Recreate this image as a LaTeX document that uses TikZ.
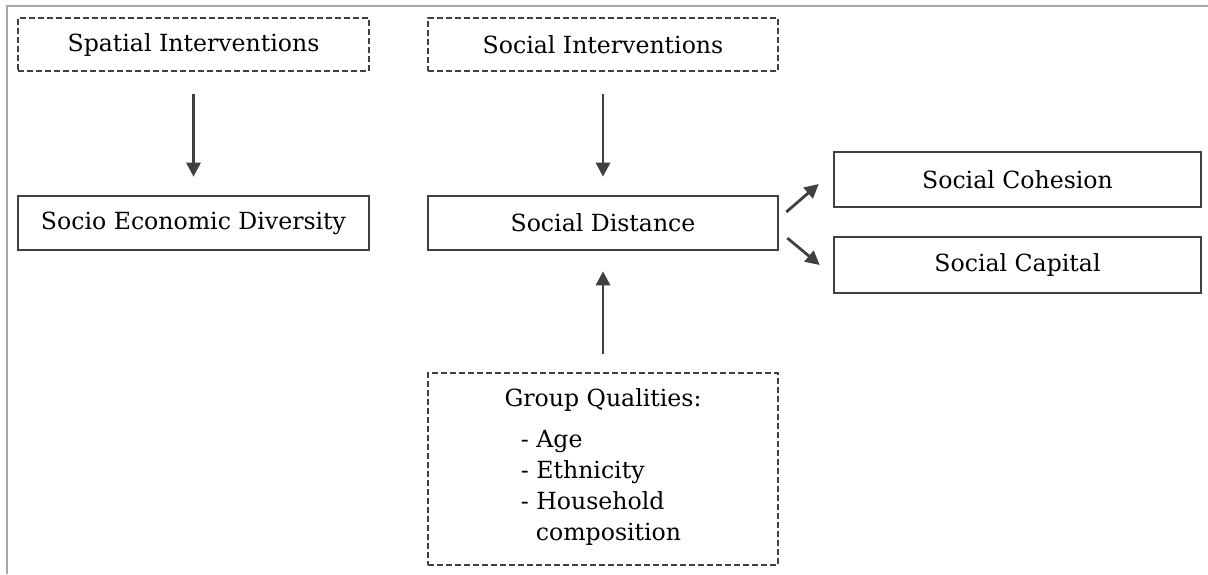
\documentclass[tikz,border=0pt]{standalone}
\usepackage{fontspec}
\setmainfont{DejaVu Serif}
\usetikzlibrary{arrows.meta}

\definecolor{boxgray}{HTML}{404040}
\definecolor{framegray}{HTML}{A6A6A6}
\tikzset{
  solidbox/.style={draw=boxgray,line width=1.3pt,minimum height=26.5pt,inner sep=0pt},
  dashbox/.style={solidbox,dash pattern=on 3pt off 1.5pt},
  link/.style={draw=boxgray,line width=1.4pt,-{Triangle[length=7pt,width=7pt]}}
}

\begin{document}
\begin{tikzpicture}[x=0.5pt,y=-0.5pt,font=\fontsize{11.8}{15.5}\selectfont]
  \useasboundingbox (0,0) rectangle (1208,574);
  \draw[framegray,line width=1pt] (7,574) -- (7,6) -- (1208,6);
  \node[dashbox,minimum width=175.5pt] (spatial) at (193.5,44.5){Spatial Interventions};
  \node[solidbox,minimum width=175.5pt,minimum height=27pt] (socio) at (193.5,223){Socio Economic Diversity};
  \node[dashbox,minimum width=175pt] (socint) at (603,44.5){Social Interventions};
  \node[solidbox,minimum width=175pt,minimum height=27pt] (dist) at (603,223){Social Distance};
  \node[solidbox,minimum width=183.5pt,minimum height=27.5pt] (coh) at (1017.5,179.5){Social Cohesion};
  \node[solidbox,minimum width=183.5pt,minimum height=28pt] (cap) at (1017.5,265){Social Capital};
  \node[dashbox,minimum width=175pt,minimum height=96pt,align=center] (group) at (603,469)
    {Group Qualities:\\[6.5pt]
     \begin{tabular}{@{}l@{}}- Age\\- Ethnicity\\- Household\\\hspace*{7.5pt}composition\end{tabular}\hspace*{2pt}};
  \path[link] ([yshift=-11pt]spatial.south) -- ([yshift=9pt]socio.north);
  \path[link] ([yshift=-11pt]socint.south) -- ([yshift=9pt]dist.north);
  \path[link] ([yshift=9pt]group.north) -- ([yshift=-10pt]dist.south);
  \path[link] ([shift={(7,-11)}]dist.east) -- ([shift={(-14,4.5)}]coh.west);
  \path[link] ([shift={(8,15)}]dist.east) -- ([shift={(-13,0)}]cap.west);
\end{tikzpicture}
\end{document}
